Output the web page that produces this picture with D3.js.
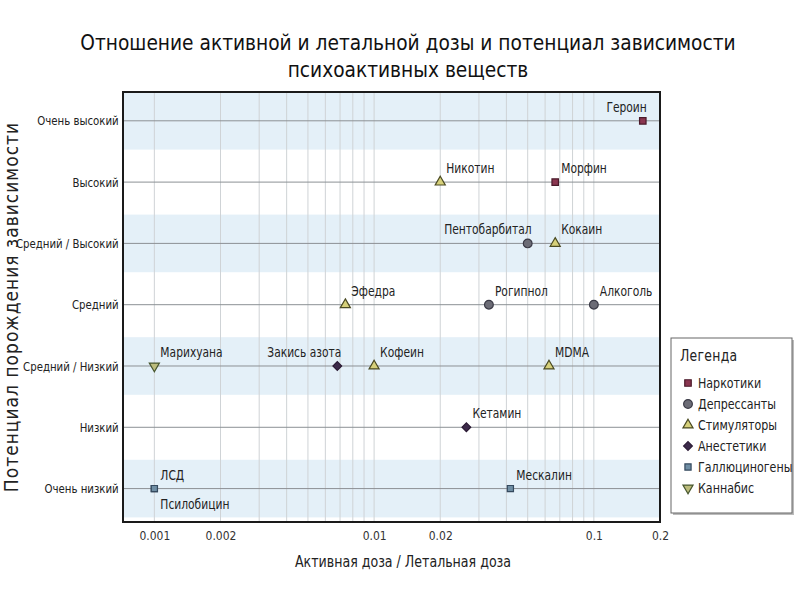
<!DOCTYPE html>
<html lang="ru">
  <head>
    <meta charset="utf-8">
    <title>Отношение активной и летальной дозы</title>
    <script src="https://cdnjs.cloudflare.com/ajax/libs/d3/7.8.5/d3.min.js"></script>
    <style>
      body { margin: 0; background: #fff; }
      text { font-family: "DejaVu Sans Condensed", sans-serif; }
    </style>
  </head>
  <body>
    <div id="chartDiv"></div>
    <script>
      // categories on the y axis, bottom to top
      var levels = ["Очень низкий", "Низкий", "Средний / Низкий", "Средний",
                    "Средний / Высокий", "Высокий", "Очень высокий"];

      var groups = ["Наркотики", "Депрессанты", "Стимуляторы", "Анестетики",
                    "Галлюциногены", "Каннабис"];

      // substances
      var names  = ["Героин", "Морфин", "Никотин", "Пентобарбитал", "Кокаин",
                    "Рогипнол", "Алкоголь", "Эфедра", "Марихуана", "Закись азота",
                    "Кофеин", "MDMA", "Кетамин", "Мескалин", "ЛСД", "Псилобицин"];
      var ratios = [0.167, 0.0667, 0.02, 0.05, 0.0667,
                    0.0333, 0.1, 0.0074, 0.001, 0.0068,
                    0.01, 0.0625, 0.0263, 0.0417, 0.001, 0.001];
      var levelOf = ["Очень высокий", "Высокий", "Высокий", "Средний / Высокий", "Средний / Высокий",
                     "Средний", "Средний", "Средний", "Средний / Низкий", "Средний / Низкий",
                     "Средний / Низкий", "Средний / Низкий", "Низкий", "Очень низкий", "Очень низкий", "Очень низкий"];
      var groupOf = ["Наркотики", "Наркотики", "Стимуляторы", "Депрессанты", "Стимуляторы",
                     "Депрессанты", "Депрессанты", "Стимуляторы", "Каннабис", "Анестетики",
                     "Стимуляторы", "Стимуляторы", "Анестетики", "Галлюциногены", "Галлюциногены", "Галлюциногены"];

      var xTicks = [0.001, 0.002, 0.01, 0.02, 0.1, 0.2];

      var data = names.map(function(n, i) {
        return {name: n, ratio: ratios[i], level: levelOf[i], group: groupOf[i]};
      });

      var chartWd = 800, chartHt = 600;
      var plotL = 123, plotR = 660, plotT = 92, plotB = 522;
      var squeeze = "scale(0.85,1)";   // the original text is narrower than any installed font

      var svg = d3.select("#chartDiv").append("svg")
          .attr("width", chartWd).attr("height", chartHt);

      var xScale = d3.scaleLog()
          .domain([0.00072, 0.2])
          .range([plotL, plotR]);

      var yScale = d3.scaleLinear()
          .domain([0.455, 7.47])
          .range([plotB, plotT]);

      var yOf = function(lv) { return yScale(levels.indexOf(lv) + 1); };

      // marker styles per group
      var style = {
        "Наркотики":     {sym: d3.symbolSquare,   size: 42, fill: "#8a3650", stroke: "#4a1a2a", rot: 0},
        "Депрессанты":   {sym: d3.symbolCircle,   size: 60, fill: "#6c6c76", stroke: "#3a3a46", rot: 0},
        "Стимуляторы":   {sym: d3.symbolTriangle, size: 44, fill: "#d6d07a", stroke: "#4a4a22", rot: 0},
        "Анестетики":    {sym: d3.symbolSquare,   size: 38, fill: "#3c2a4a", stroke: "#2a1a34", rot: 45},
        "Галлюциногены": {sym: d3.symbolSquare,   size: 38, fill: "#6f8ea4", stroke: "#34495e", rot: 0},
        "Каннабис":      {sym: d3.symbolTriangle, size: 44, fill: "#bcbc7c", stroke: "#46562e", rot: 180}
      };

      // background and bands
      var plot = svg.append("g");
      plot.append("rect")
          .attr("x", plotL).attr("y", plotT)
          .attr("width", plotR - plotL).attr("height", plotB - plotT)
          .attr("fill", "#ffffff");

      plot.selectAll("rect.band")
          .data([1, 3, 5, 7])
          .enter().append("rect")
          .attr("class", "band")
          .attr("x", plotL)
          .attr("y", function(d) { return Math.max(plotT, yScale(d + 0.47)); })
          .attr("height", function(d) {
            return Math.min(plotB, yScale(d - 0.47)) - Math.max(plotT, yScale(d + 0.47));
          })
          .attr("width", plotR - plotL)
          .attr("fill", "#e4f0f8");

      // vertical log grid lines (1..9 in every decade)
      var minor = [];
      [0.001, 0.01, 0.1].forEach(function(dec) {
        for (var k = 1; k <= 9; k++) {
          var v = dec * k;
          if (v <= 0.2) minor.push(v);
        }
      });

      plot.selectAll("line.vgrid")
          .data(minor)
          .enter().append("line")
          .attr("class", "vgrid")
          .attr("x1", function(d) { return xScale(d); })
          .attr("x2", function(d) { return xScale(d); })
          .attr("y1", plotT).attr("y2", plotB)
          .attr("stroke", "#cfd3d6")
          .attr("stroke-width", 1);

      plot.selectAll("line.hgrid")
          .data(levels)
          .enter().append("line")
          .attr("class", "hgrid")
          .attr("x1", plotL).attr("x2", plotR)
          .attr("y1", function(d) { return yOf(d); })
          .attr("y2", function(d) { return yOf(d); })
          .attr("stroke", "#8c9094")
          .attr("stroke-width", 1);

      // axes
      var xAxis = d3.axisBottom(xScale)
          .tickValues(xTicks)
          .tickFormat(d3.format("~g"))
          .tickSize(0)
          .tickPadding(9);

      svg.append("g")
         .attr("class", "axisX")
         .attr("transform", "translate(0," + plotB + ")")
         .call(xAxis)
         .call(function(g) { g.select(".domain").remove(); })
         .selectAll("text")
         .attr("font-size", "13px")
         .attr("transform", "scale(0.92,1)")
         .attr("fill", "#333");

      var yAxis = d3.axisLeft(yScale)
          .tickValues(d3.range(1, levels.length + 1))
          .tickFormat(function(d) { return levels[d - 1]; })
          .tickSize(0)
          .tickPadding(5);

      svg.append("g")
         .attr("class", "axisY")
         .attr("transform", "translate(" + plotL + ",0)")
         .call(yAxis)
         .call(function(g) { g.select(".domain").remove(); })
         .selectAll("text")
         .attr("font-size", "13px")
         .attr("transform", "scale(0.87,1)")
         .attr("fill", "#222");

      // plot frame
      svg.append("rect")
         .attr("x", plotL).attr("y", plotT)
         .attr("width", plotR - plotL).attr("height", plotB - plotT)
         .attr("fill", "none")
         .attr("stroke", "#1a1a1a")
         .attr("stroke-width", 2);

      // markers
      var symbolPath = function(g) {
        var s = style[g];
        return d3.symbol().type(s.sym).size(s.size)();
      };

      svg.selectAll("path.mark")
         .data(data)
         .enter().append("path")
         .attr("class", "mark")
         .attr("d", function(d) { return symbolPath(d.group); })
         .attr("transform", function(d) {
           return "translate(" + xScale(d.ratio) + "," + yOf(d.level) + ") rotate(" + style[d.group].rot + ")";
         })
         .attr("fill", function(d) { return style[d.group].fill; })
         .attr("stroke", function(d) { return style[d.group].stroke; })
         .attr("stroke-width", 1.2);

      // labels: which ones sit to the left of the marker, which one below it
      var endLabels = ["Героин", "Пентобарбитал", "Закись азота"];
      var belowLabels = ["Псилобицин"];

      svg.selectAll("text.name")
         .data(data)
         .enter().append("text")
         .attr("class", "name")
         .text(function(d) { return d.name; })
         .attr("transform", function(d) {
           var tx = xScale(d.ratio) + (endLabels.indexOf(d.name) >= 0 ? 4 : 6);
           var ty = yOf(d.level) + (belowLabels.indexOf(d.name) >= 0 ? 20 : -9);
           return "translate(" + tx + "," + ty + ") " + squeeze;
         })
         .attr("text-anchor", function(d) {
           return endLabels.indexOf(d.name) >= 0 ? "end" : "start";
         })
         .attr("font-size", "14px")
         .attr("fill", "#222");

      // titles
      var title = svg.append("text")
         .attr("x", 408).attr("y", 50)
         .attr("text-anchor", "middle")
         .attr("font-size", "20.7px")
         .attr("fill", "#111");
      title.append("tspan").attr("x", 408).text("Отношение активной и летальной дозы и потенциал зависимости");
      title.append("tspan").attr("x", 408).attr("dy", 27).text("психоактивных веществ");

      svg.append("text")
         .attr("transform", "translate(18," + (plotT + plotB) / 2 + ") rotate(-90)")
         .attr("text-anchor", "middle")
         .attr("font-family", "DejaVu Sans, sans-serif")
         .attr("font-size", "19px")
         .attr("letter-spacing", "1px")
         .attr("fill", "#222")
         .text("Потенциал порождения зависимости");

      svg.append("text")
         .attr("transform", "translate(403,567) " + squeeze)
         .attr("text-anchor", "middle")
         .attr("font-size", "16.5px")
         .attr("fill", "#222")
         .text("Активная доза / Летальная доза");

      // legend
      var legend = svg.append("g").attr("transform", "translate(671,338)");
      legend.append("rect")
         .attr("x", 2).attr("y", 2)
         .attr("width", 121).attr("height", 175)
         .attr("fill", "#bbb");
      legend.append("rect")
         .attr("width", 121).attr("height", 175)
         .attr("fill", "#fff")
         .attr("stroke", "#666")
         .attr("stroke-width", 1);
      legend.append("text")
         .attr("transform", "translate(9,23) scale(0.92,1)")
         .attr("font-size", "15px")
         .attr("letter-spacing", "0.3px")
         .attr("fill", "#222")
         .text("Легенда");

      var item = legend.selectAll("g.item")
         .data(groups)
         .enter().append("g")
         .attr("class", "item")
         .attr("transform", function(d, i) { return "translate(0," + (45 + i * 21) + ")"; });

      item.append("path")
         .attr("d", function(d) { return symbolPath(d); })
         .attr("transform", function(d) { return "translate(17,0) rotate(" + style[d].rot + ")"; })
         .attr("fill", function(d) { return style[d].fill; })
         .attr("stroke", function(d) { return style[d].stroke; })
         .attr("stroke-width", 1.2);

      item.append("text")
         .attr("transform", "translate(27,5) " + squeeze)
         .attr("font-size", "14.5px")
         .attr("fill", "#222")
         .text(function(d) { return d; });
    </script>
  </body>
</html>
